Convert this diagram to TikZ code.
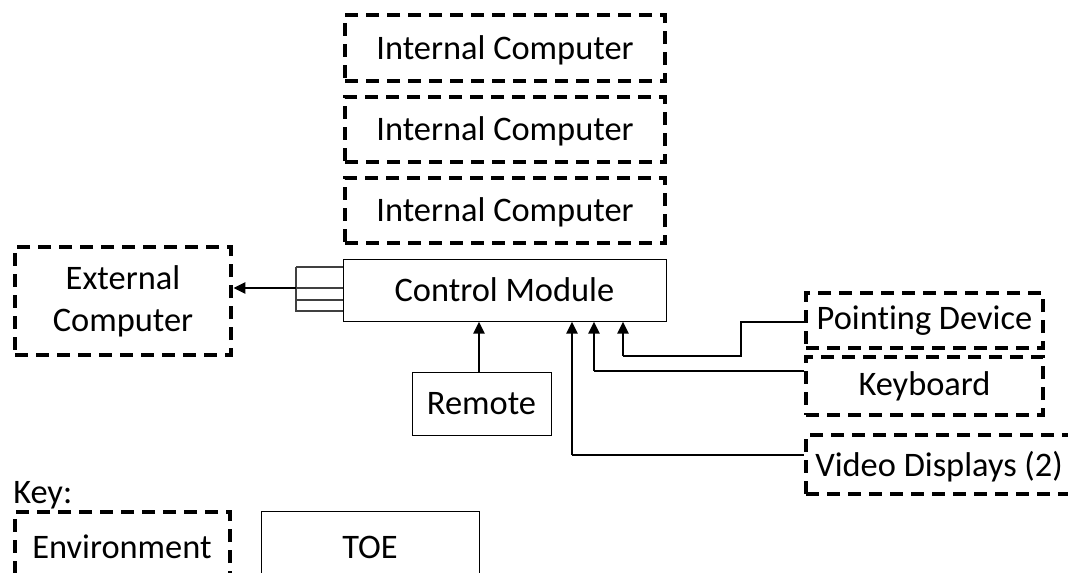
\documentclass[tikz,border=0pt]{standalone}
\usepackage{fontspec}
\setmainfont{Carlito}[Ligatures=NoCommon]
\usetikzlibrary{arrows.meta,fit}
\begin{document}
\begin{tikzpicture}[x=0.75pt,y=-0.75pt,
  every node/.style={font=\fontsize{25.8pt}{31.5pt}\selectfont, text=black},
  envbox/.style={draw=black, line width=3.4pt, dash pattern=on 9.75pt off 6pt, inner sep=0pt},
  toebox/.style={draw=black, line width=0.75pt, inner sep=0pt},
  lbl/.style={inner sep=0pt, anchor=center},
  wire/.style={draw=black, line width=0.9pt},
  stub/.style={draw=black!75, line width=0.8pt},
  feed/.style={draw=black, line width=2.2pt, -{Triangle[length=9pt,width=8pt]}}]
\clip (0,0) rectangle (1068,572);
\fill[white] (0,0) rectangle (1068,572);

% internal computers
\node[envbox, fit={(345,15) (665,81)}] (ic1) {};
\node[lbl] (ic1l) at ([yshift=-1.5pt]ic1.center) {Internal Computer};
\node[envbox, fit={(345,97) (665,162)}] (ic2) {};
\node[lbl] (ic2l) at ([yshift=-1.5pt]ic2.center) {Internal Computer};
\node[envbox, fit={(345,178) (665,243)}] (ic3) {};
\node[lbl] (ic3l) at ([yshift=-1.5pt]ic3.center) {Internal Computer};

% control module and its ports
\node[toebox, fit={(343,259) (666,321)}] (cm) {};
\node[lbl] (cml) at (cm.center) {Control Module};
\coordinate (pt) at (296,267);
\coordinate (pb) at (296,312);
\coordinate (p1) at (296,267);
\coordinate (p2) at (296,288);
\coordinate (p3) at (296,300);
\coordinate (p4) at (296,311);
\draw[stub] (pt) -- (pb);
\foreach \p in {p1,p2,p3,p4} \draw[stub] (\p) -- (\p -| cm.west);

% external computer
\node[envbox, fit={(15,247) (231,355)}] (ext) {};
\node[lbl, align=center] (extl) at (ext.center) {External\\Computer};
\draw[feed] (p2) -- (p2 -| ext.east);

% remote
\node[toebox, fit={(412,372) (551,435)}] (rem) {};
\node[lbl] (reml) at (rem.center) {Remote};
\draw[feed] (rem.north -| 479,0) -- (479,0 |- cm.south);

% peripherals
\node[envbox, fit={(806,293) (1043,348)}] (pd) {};
\node[lbl] (pdl) at (pd.center) {Pointing Device};
\node[envbox, fit={(806,357) (1043,415)}] (kb) {};
\node[lbl] (kbl) at (kb.center) {Keyboard};
\node[envbox, fit={(806,435) (1100,494)}] (vd) {};
\node[anchor=west, inner sep=0pt] (vdl) at (815,467) {Video Displays (2)};

\coordinate (pdA) at (741,322);
\coordinate (pdB) at (741,356);
\coordinate (pdC) at (623,356);
\draw[wire] (pdA -| pd.west) -- (pdA) -- (pdB) -- (pdC);
\draw[feed] (pdC) -- (pdC |- cm.south);

\coordinate (kbC) at (594,371);
\draw[wire] (kbC -| kb.west) -- (kbC);
\draw[feed] (kbC) -- (kbC |- cm.south);

\coordinate (vdC) at (572,455);
\draw[wire] (vdC -| vd.west) -- (vdC);
\draw[feed] (vdC) -- (vdC |- cm.south);

% key
\node[anchor=west, inner sep=0pt] (key) at (13,495) {Key:};
\node[envbox, fit={(15,512) (230,600)}] (env) {};
\node[lbl] (envl) at (122,547) {Environment};
\node[toebox, fit={(261,511) (479,600)}] (toe) {};
\node[lbl] (toel) at (370,547) {TOE};
\end{tikzpicture}
\end{document}
